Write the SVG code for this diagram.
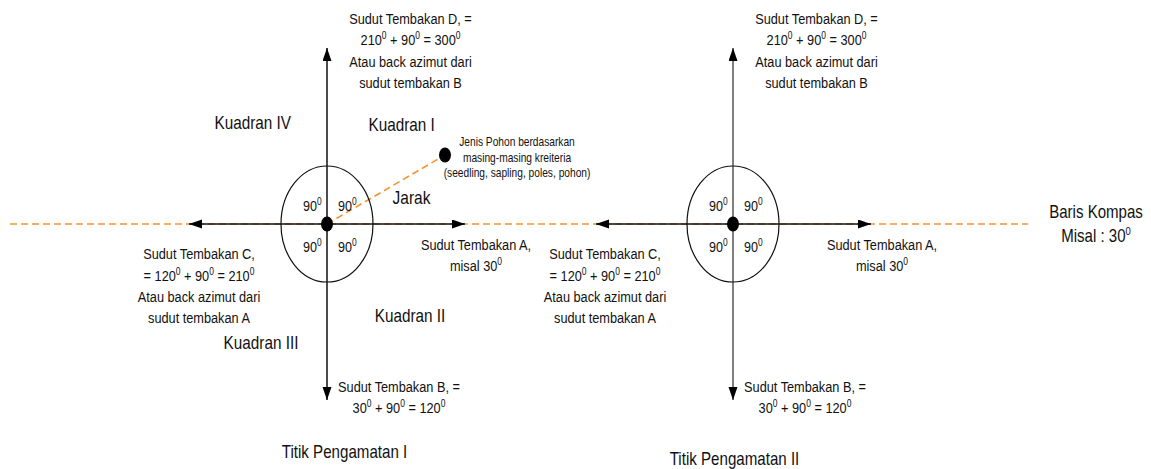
<svg xmlns="http://www.w3.org/2000/svg" width="1151" height="469" viewBox="0 0 1151 469">
<style>
text{font-family:"Liberation Sans",Arial,sans-serif;fill:#111;}
.t{font-size:15px;text-anchor:middle;}
.s{font-size:15px;}
.q{font-size:18px;text-anchor:middle;}
.n{font-size:12px;text-anchor:middle;}
.b{font-size:17.5px;text-anchor:middle;}
.ax{stroke:#111;stroke-width:1.5;fill:none;marker-end:url(#ah);}
.axg{stroke:#555;stroke-width:1.5;fill:none;marker-end:url(#ah);}
.dash{stroke:#f7922e;stroke-width:1.6;stroke-dasharray:7 4;fill:none;}
.ring{stroke:#111;stroke-width:1.2;fill:none;}
.dot{fill:#000;}
</style>
<defs>
<marker id="ah" markerUnits="userSpaceOnUse" markerWidth="14" markerHeight="10" refX="13" refY="4.5" orient="auto">
<path d="M0,0 L13,4.5 L0,9 z" fill="#000"/>
</marker>
</defs>
<rect width="1151" height="469" fill="#fff"/>

<g id="connectors">
<line class="dash" x1="10" y1="224" x2="1028" y2="224"/>
<line class="dash" x1="327" y1="224" x2="445" y2="155"/>
<line class="ax" x1="327" y1="224" x2="189" y2="224"/>
<line class="ax" x1="327" y1="224" x2="465" y2="224"/>
<line class="ax" x1="327" y1="224" x2="327" y2="48"/>
<line class="ax" x1="327" y1="224" x2="327" y2="400"/>
<line class="ax" x1="733" y1="224" x2="596" y2="224"/>
<line class="ax" x1="733" y1="224" x2="871" y2="224"/>
<line class="axg" x1="733" y1="224" x2="733" y2="48"/>
<line class="axg" x1="733" y1="224" x2="733" y2="400"/>
</g>

<g id="station1">
<ellipse class="ring" cx="327" cy="224" rx="46" ry="58"/>
<ellipse class="dot" cx="327" cy="224" rx="6" ry="7.5"/>
<text class="s" transform="translate(303,210.5) scale(0.84,1)">90<tspan font-size="10" dy="-6">0</tspan></text>
<text class="s" transform="translate(338,210.5) scale(0.84,1)">90<tspan font-size="10" dy="-6">0</tspan></text>
<text class="s" transform="translate(303,252.3) scale(0.84,1)">90<tspan font-size="10" dy="-6">0</tspan></text>
<text class="s" transform="translate(338,252.3) scale(0.84,1)">90<tspan font-size="10" dy="-6">0</tspan></text>
</g>

<g id="station2">
<ellipse class="ring" cx="733" cy="224" rx="46" ry="58"/>
<ellipse class="dot" cx="733" cy="224" rx="6" ry="7.5"/>
<text class="s" transform="translate(709,210.5) scale(0.84,1)">90<tspan font-size="10" dy="-6">0</tspan></text>
<text class="s" transform="translate(744,210.5) scale(0.84,1)">90<tspan font-size="10" dy="-6">0</tspan></text>
<text class="s" transform="translate(709,252.3) scale(0.84,1)">90<tspan font-size="10" dy="-6">0</tspan></text>
<text class="s" transform="translate(744,252.3) scale(0.84,1)">90<tspan font-size="10" dy="-6">0</tspan></text>
</g>

<g id="tree">
<ellipse class="dot" cx="445" cy="155" rx="6" ry="7.5"/>
<text class="n" transform="translate(517,146) scale(0.85,1)">Jenis Pohon berdasarkan</text>
<text class="n" transform="translate(517,161.5) scale(0.85,1)">masing-masing kreiteria</text>
<text class="n" transform="translate(517,177) scale(0.85,1)">(seedling, sapling, poles, pohon)</text>
</g>

<g id="label-jarak">
<text class="q" transform="translate(411.5,204) scale(0.86,1)">Jarak</text>
</g>

<g id="quadrants">
<text class="q" transform="translate(252.7,128.5) scale(0.85,1)">Kuadran IV</text>
<text class="q" transform="translate(401.7,131) scale(0.85,1)">Kuadran I</text>
<text class="q" transform="translate(410,321.7) scale(0.85,1)">Kuadran II</text>
<text class="q" transform="translate(261,348.5) scale(0.85,1)">Kuadran III</text>
</g>

<g id="shot-D1">
<text class="t" transform="translate(410.5,23.5) scale(0.85,1)">Sudut Tembakan D, =</text>
<text class="t" transform="translate(410.5,45) scale(0.85,1)">210<tspan font-size="10" dy="-6">0</tspan><tspan dy="6"> + 90</tspan><tspan font-size="10" dy="-6">0</tspan><tspan dy="6"> = 300</tspan><tspan font-size="10" dy="-6">0</tspan></text>
<text class="t" transform="translate(410.5,66.5) scale(0.85,1)">Atau back azimut dari</text>
<text class="t" transform="translate(410.5,88) scale(0.85,1)">sudut tembakan B</text>
</g>

<g id="shot-C1">
<text class="t" transform="translate(199,259) scale(0.85,1)">Sudut Tembakan C,</text>
<text class="t" transform="translate(199,280.5) scale(0.85,1)">= 120<tspan font-size="10" dy="-6">0</tspan><tspan dy="6"> + 90</tspan><tspan font-size="10" dy="-6">0</tspan><tspan dy="6"> = 210</tspan><tspan font-size="10" dy="-6">0</tspan></text>
<text class="t" transform="translate(199,302) scale(0.85,1)">Atau back azimut dari</text>
<text class="t" transform="translate(199,323) scale(0.85,1)">sudut tembakan A</text>
</g>

<g id="shot-A1">
<text class="t" transform="translate(476,249.5) scale(0.85,1)">Sudut Tembakan A,</text>
<text class="t" transform="translate(476,270.5) scale(0.85,1)">misal 30<tspan font-size="10" dy="-6">0</tspan></text>
</g>

<g id="shot-B1">
<text class="t" transform="translate(399,391.5) scale(0.85,1)">Sudut Tembakan B, =</text>
<text class="t" transform="translate(399,412.5) scale(0.85,1)">30<tspan font-size="10" dy="-6">0</tspan><tspan dy="6"> + 90</tspan><tspan font-size="10" dy="-6">0</tspan><tspan dy="6"> = 120</tspan><tspan font-size="10" dy="-6">0</tspan></text>
</g>

<g id="shot-D2">
<text class="t" transform="translate(816.5,23.5) scale(0.85,1)">Sudut Tembakan D, =</text>
<text class="t" transform="translate(816.5,45) scale(0.85,1)">210<tspan font-size="10" dy="-6">0</tspan><tspan dy="6"> + 90</tspan><tspan font-size="10" dy="-6">0</tspan><tspan dy="6"> = 300</tspan><tspan font-size="10" dy="-6">0</tspan></text>
<text class="t" transform="translate(816.5,66.5) scale(0.85,1)">Atau back azimut dari</text>
<text class="t" transform="translate(816.5,88) scale(0.85,1)">sudut tembakan B</text>
</g>

<g id="shot-C2">
<text class="t" transform="translate(605,259) scale(0.85,1)">Sudut Tembakan C,</text>
<text class="t" transform="translate(605,280.5) scale(0.85,1)">= 120<tspan font-size="10" dy="-6">0</tspan><tspan dy="6"> + 90</tspan><tspan font-size="10" dy="-6">0</tspan><tspan dy="6"> = 210</tspan><tspan font-size="10" dy="-6">0</tspan></text>
<text class="t" transform="translate(605,302) scale(0.85,1)">Atau back azimut dari</text>
<text class="t" transform="translate(605,323) scale(0.85,1)">sudut tembakan A</text>
</g>

<g id="shot-A2">
<text class="t" transform="translate(882,249.5) scale(0.85,1)">Sudut Tembakan A,</text>
<text class="t" transform="translate(882,270.5) scale(0.85,1)">misal 30<tspan font-size="10" dy="-6">0</tspan></text>
</g>

<g id="shot-B2">
<text class="t" transform="translate(805,391.5) scale(0.85,1)">Sudut Tembakan B, =</text>
<text class="t" transform="translate(805,412.5) scale(0.85,1)">30<tspan font-size="10" dy="-6">0</tspan><tspan dy="6"> + 90</tspan><tspan font-size="10" dy="-6">0</tspan><tspan dy="6"> = 120</tspan><tspan font-size="10" dy="-6">0</tspan></text>
</g>

<g id="compass-line-label">
<text class="b" transform="translate(1096,218.3) scale(0.86,1)">Baris Kompas</text>
<text class="b" transform="translate(1096,241.7) scale(0.86,1)">Misal : 30<tspan font-size="11" dy="-7">0</tspan></text>
</g>

<g id="titles">
<text class="q" transform="translate(344.5,458) scale(0.84,1)">Titik Pengamatan I</text>
<text class="q" transform="translate(734.5,465) scale(0.84,1)">Titik Pengamatan II</text>
</g>
</svg>
